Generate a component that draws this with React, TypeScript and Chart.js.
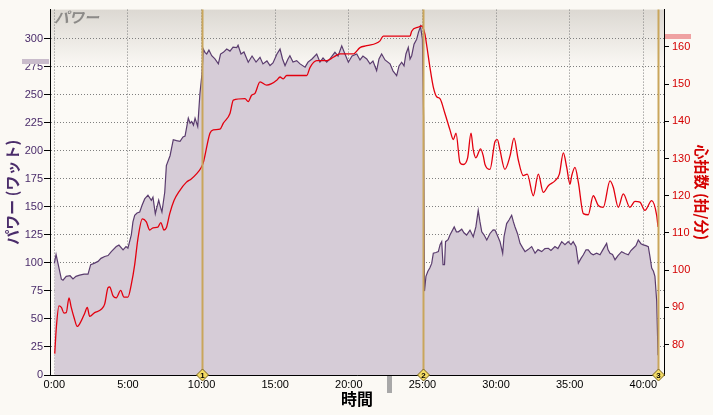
import React, { useEffect, useRef } from 'react';
import { Chart, registerables } from 'chart.js';

Chart.register(...registerables);

// ---- data (time in minutes) ----
const powerTimes = [
  0, 0.12, 0.25, 0.48, 0.59, 0.81, 1.07, 1.27, 1.47, 1.72, 2.02, 2.29, 2.47, 2.7, 2.97, 3.17, 3.42, 3.65, 3.87, 4.21,
  4.39, 4.67, 4.87, 5.0, 5.23, 5.34, 5.46, 5.62, 5.8, 5.96, 6.14, 6.36, 6.59, 6.7, 6.86, 6.97, 7.09, 7.21, 7.31, 7.5,
  7.61, 7.86, 8.08, 8.3, 8.54, 8.74, 8.88, 9.1, 9.22, 9.33, 9.45, 9.56, 9.74, 9.89, 10.03, 10.12, 10.23, 10.35, 10.5, 10.69,
  10.91, 11.14, 11.29, 11.48, 11.71, 11.93, 12.14, 12.39, 12.48, 12.68, 12.88, 13.17, 13.43, 13.7, 13.97, 14.17, 14.44, 14.65, 14.85, 15.12,
  15.33, 15.5, 15.67, 15.87, 16.0, 16.21, 16.46, 16.69, 17.03, 17.23, 17.5, 17.82, 18.04, 18.25, 18.5, 18.72, 19.06, 19.27, 19.52, 19.74,
  19.97, 20.22, 20.54, 20.76, 20.96, 21.22, 21.44, 21.64, 21.89, 22.05, 22.23, 22.46, 22.8, 23.0, 23.25, 23.41, 23.59, 23.75, 23.88, 24.04,
  24.16, 24.27, 24.43, 24.61, 24.73, 24.87, 25.0, 25.08, 25.14, 25.24, 25.37, 25.5, 25.63, 25.74, 25.92, 26.08, 26.2, 26.31, 26.4, 26.5,
  26.57, 26.74, 26.87, 27.16, 27.31, 27.44, 27.67, 27.82, 28.0, 28.23, 28.45, 28.63, 28.79, 28.91, 29.03, 29.18, 29.37, 29.59, 29.8, 29.93,
  30.13, 30.27, 30.45, 30.54, 30.72, 30.88, 31.06, 31.18, 31.29, 31.46, 31.63, 31.8, 31.97, 32.17, 32.42, 32.65, 32.85, 33.1, 33.32, 33.55,
  33.73, 34.0, 34.2, 34.46, 34.68, 34.9, 35.09, 35.24, 35.43, 35.59, 35.77, 35.93, 36.11, 36.26, 36.45, 36.6, 36.83, 37.06, 37.26, 37.51,
  37.6, 37.74, 37.91, 38.08, 38.28, 38.53, 38.76, 38.98, 39.16, 39.32, 39.5, 39.66, 39.84, 40.0, 40.18, 40.34, 40.45, 40.57, 40.69, 40.79,
  40.91, 40.96, 41.0,
];
const powerValues = [
  99.5, 107.4, 99.5, 85.4, 84.5, 88, 88.5, 85.7, 88, 89, 90, 90, 98.4, 99.5, 101.3, 104, 105.7, 106.5, 110, 114.5,
  115.8, 111.6, 114.5, 113, 125, 136.5, 142.4, 144.4, 145.3, 151.4, 157, 160.3, 155.8, 158.5, 143.8, 149.7, 155.8, 149.7, 145.3, 162.9,
  186.7, 195.5, 209.8, 209, 208.4, 212.2, 213, 229, 224.5, 226, 222.8, 229, 221.6, 251, 268.6, 290.6, 287.7, 286.2, 289.7, 284.7,
  281.8, 277.4, 286.2, 287.7, 290.6, 288.8, 292.3, 292, 294, 286.2, 288, 278.9, 284.4, 279, 283.3, 277.4, 280, 275.9, 278.2, 286.2,
  290.6, 281.8, 275.9, 281.8, 284.7, 279, 280.3, 277.4, 274.5, 279, 281.8, 286.2, 279, 282.6, 278.9, 281.8, 287.7, 284.4, 293.5, 286.2,
  278.9, 284.4, 286.2, 280.9, 284.4, 281.8, 277.4, 280, 271.5, 281.8, 286.2, 280.9, 277.4, 271.2, 267, 275.6, 278.9, 275.6, 286.2, 292,
  281.8, 284.7, 295, 299.4, 305.5, 310.8, 299.4, 230, 74.8, 88, 92.5, 95.4, 99.5, 108.6, 109.2, 110, 116.2, 118.9, 98.4, 98.4,
  118.9, 120.6, 124.8, 132, 127.7, 127.7, 130, 126.8, 124.8, 129.2, 123.3, 132, 146.8, 136.5, 127.7, 125, 120.4, 126.2, 129.4, 129.2,
  123.3, 118.9, 108.6, 123.3, 135, 138.2, 142.4, 136.5, 132, 126, 117.4, 113.6, 110, 111.8, 114.5, 108.6, 111.8, 110, 112.7, 113,
  111, 114.5, 112.7, 118.9, 116.2, 118.9, 116.2, 118.9, 114.5, 99.8, 104, 107.2, 111.6, 111.6, 108.3, 107.2, 108.6, 107.2, 111.8, 117.4,
  111.8, 108.6, 107.4, 102.8, 106.5, 110, 108.3, 107.2, 111, 113, 115.3, 120.4, 117.1, 116, 115.3, 114.5, 105.7, 95.4, 92.5, 88,
  66, 39.6, 17.6,
];

const hrTimes = [
  0.03, 0.14, 0.32, 0.48, 0.66, 0.81, 1.0, 1.15, 1.34, 1.56, 1.83, 2.06, 2.24, 2.4, 2.74, 3.19, 3.42, 3.65, 3.76, 3.99,
  4.21, 4.51, 4.73, 5.0, 5.23, 5.46, 5.68, 5.98, 6.25, 6.48, 6.7, 7.04, 7.23, 7.45, 7.61, 7.84, 8.13, 8.52, 8.96, 9.3,
  9.64, 9.98, 10.12, 10.57, 10.8, 11.25, 11.48, 11.93, 12.16, 12.95, 13.17, 13.4, 13.63, 13.97, 14.42, 14.76, 15.1, 15.33, 15.55, 15.78,
  17.14, 17.37, 17.82, 18.5, 18.95, 19.4, 20.3, 20.76, 21.22, 22.12, 22.34, 24.16, 24.27, 24.72, 24.95, 25.17, 25.28, 25.51, 25.74, 25.97,
  26.19, 26.53, 26.87, 27.1, 27.28, 27.55, 27.77, 28.07, 28.3, 28.45, 28.63, 28.95, 29.13, 29.25, 29.59, 29.93, 30.09, 30.26, 30.6, 30.95,
  31.22, 31.5, 31.85, 32.12, 32.53, 32.87, 33.21, 33.55, 34.0, 34.3, 34.57, 34.8, 35.02, 35.14, 35.36, 35.59, 35.93, 36.26, 36.6, 36.94,
  37.28, 37.74, 37.96, 38.3, 38.64, 39.09, 39.43, 39.77, 40.11, 40.57, 40.91, 41.0,
];
const hrValues = [
  77.6, 84.7, 90.4, 90, 88.5, 88.6, 92.6, 90, 87.3, 84.9, 86.4, 88.4, 90, 87.6, 88.6, 89.5, 90.9, 95.3, 95.5, 93.1,
  92.6, 94.6, 92.8, 92.8, 96.2, 101.5, 108.5, 113.8, 113, 110.8, 111.4, 111.6, 112.8, 110.8, 111.4, 115.2, 118.7, 121.4, 123.6, 124.5,
  125.8, 127.6, 128.9, 136.8, 137.7, 137.9, 139.5, 142.1, 145.7, 146.1, 145.3, 147, 147.5, 150.6, 149.7, 150.1, 151, 151.9, 151.4, 152.3,
  152.3, 154.5, 156.3, 156.3, 157.2, 158.1, 158.1, 159.8, 160.3, 161.6, 162.9, 162.9, 164.2, 165.3, 165.6, 163.4, 160.7, 154.5, 149.2, 146.6,
  146.1, 142.1, 137.7, 135.1, 136.8, 128.9, 128.4, 130.2, 136.8, 132.4, 130.2, 132.6, 130.7, 128.4, 127.1, 134.6, 135.1, 132.4, 127.1, 130.7,
  135.5, 129.8, 125.4, 125.8, 120, 125.8, 120.9, 122.7, 124, 125.8, 131.5, 127.6, 123.1, 125.4, 127.6, 123.6, 115.2, 114.9, 120, 117.4,
  116.9, 124, 122.3, 116.9, 120.5, 116.9, 118.5, 118.3, 116.1, 118.7, 114.7, 111.6,
];

const xTickValues = [0, 5, 10, 15, 20, 25, 30, 35, 40];
const xTickLabels = ['0:00', '5:00', '10:00', '15:00', '20:00', '25:00', '30:00', '35:00', '40:00'];
const powerTicks = [0, 25, 50, 75, 100, 125, 150, 175, 200, 225, 250, 275, 300];
const hrTicks = [80, 90, 100, 110, 120, 130, 140, 150, 160];

const lapTimes = [10.05, 25.06, 41.03];
const lapLabels = ['1', '2', '3'];
const avgPowerMarker = 279.6;
const maxHrMarker = 163;
const timeMarker = 22.7;

// ---- styles ----
const BG = '#FBF9F4';
const GRID = '#7f7f7f';
const PURPLE = '#4A2C6A';
const RED = '#D40000';
const TICK_FONT = { family: '"Liberation Sans", Arial, sans-serif', size: 11 };
const JP = '"Noto Sans CJK JP", sans-serif';

const decorPlugin = {
  id: 'decor',
  beforeDraw(chart: any) {
    const { ctx, chartArea: a } = chart;
    ctx.save();
    ctx.fillStyle = BG;
    ctx.fillRect(0, 0, chart.width, chart.height);
    const g = ctx.createLinearGradient(0, a.top, 0, a.top + 60);
    g.addColorStop(0, '#DCD8D2');
    g.addColorStop(1, '#FCFAF6');
    ctx.fillStyle = '#FCFAF6';
    ctx.fillRect(a.left, a.top, a.right - a.left, a.bottom - a.top);
    ctx.fillStyle = g;
    ctx.fillRect(a.left, a.top, a.right - a.left, 60);
    // top-left label
    ctx.font = `italic bold 15px ${JP}`;
    ctx.fillStyle = '#8C8A88';
    ctx.textBaseline = 'top';
    ctx.textAlign = 'left';
    ctx.fillText('パワー', a.left + 4, a.top + 0);
    ctx.restore();
  },
  afterDraw(chart: any) {
    const { ctx, chartArea: a, scales } = chart;
    const xs = scales.x, yp = scales.yPower, yh = scales.yHr;
    ctx.save();
    // side markers
    const py = yp.getPixelForValue(avgPowerMarker);
    ctx.fillStyle = '#C9BCCB';
    ctx.fillRect(a.left - 28, Math.round(py) - 2, 27, 5);
    const hy = yh.getPixelForValue(maxHrMarker);
    ctx.fillStyle = '#EFA2A2';
    ctx.fillRect(a.right + 1, Math.round(hy) - 2, 26, 5);
    const tx = xs.getPixelForValue(timeMarker);
    ctx.fillStyle = '#A8A8A8';
    ctx.fillRect(Math.round(tx) - 2, a.bottom + 1, 5, 17);
    // laps
    lapTimes.forEach((t, i) => {
      const px = Math.round(xs.getPixelForValue(t)) + 0.5;
      ctx.strokeStyle = '#C9A65C';
      ctx.lineWidth = 2;
      ctx.beginPath();
      ctx.moveTo(px, a.top);
      ctx.lineTo(px, a.bottom);
      ctx.stroke();
      const cy = a.bottom;
      ctx.beginPath();
      ctx.moveTo(px, cy - 6);
      ctx.lineTo(px + 6, cy);
      ctx.lineTo(px, cy + 6);
      ctx.lineTo(px - 6, cy);
      ctx.closePath();
      ctx.fillStyle = '#F3DB64';
      ctx.fill();
      ctx.lineWidth = 1;
      ctx.strokeStyle = '#7A6420';
      ctx.stroke();
      ctx.fillStyle = '#000';
      ctx.font = 'bold 8px "Liberation Sans", sans-serif';
      ctx.textAlign = 'center';
      ctx.textBaseline = 'middle';
      ctx.fillText(lapLabels[i], px, cy + 0.5);
    });
    ctx.restore();
  },
};

export default function App() {
  const ref = useRef<HTMLCanvasElement>(null);
  useEffect(() => {
    document.body.style.margin = '0';
    document.body.style.background = BG;
    const canvas = ref.current as HTMLCanvasElement;
    const chart = new Chart(canvas, {
      type: 'line',
      data: {
        datasets: [
          {
            label: '心拍数',
            data: hrTimes.map((t, i) => ({ x: t, y: hrValues[i] })),
            yAxisID: 'yHr',
            borderColor: '#E3000F',
            borderWidth: 1.3,
            pointRadius: 0,
            fill: false,
            cubicInterpolationMode: 'monotone',
            order: 0,
          },
          {
            label: 'パワー',
            data: powerTimes.map((t, i) => ({ x: t, y: powerValues[i] })),
            yAxisID: 'yPower',
            borderColor: '#5A3C6E',
            backgroundColor: '#D6CCD7',
            borderWidth: 1.2,
            pointRadius: 0,
            fill: 'origin',
            tension: 0,
            order: 1,
          },
        ],
      } as any,
      options: {
        responsive: false,
        maintainAspectRatio: false,
        animation: false,
        layout: { padding: { top: 5, left: 0, right: 0, bottom: 0 } },
        plugins: { legend: { display: false }, tooltip: { enabled: false } },
        scales: {
          x: {
            type: 'linear',
            min: -0.292,
            max: 41.406,
            z: 1,
            afterBuildTicks: (s: any) => {
              s.ticks = xTickValues.map((v) => ({ value: v }));
            },
            afterFit: (s: any) => {
              s.height = 40;
            },
            ticks: {
              callback: (_v: any, i: number) => xTickLabels[i],
              font: TICK_FONT,
              color: '#000',
              padding: 3,
              maxRotation: 0,
              autoSkip: false,
            },
            grid: { color: GRID, drawTicks: false, lineWidth: 1 },
            border: { color: '#000', width: 1, dash: [1, 2] },
            title: {
              display: true,
              text: '時間',
              color: '#000',
              font: { family: JP, size: 16, weight: 'bold' },
              padding: { top: 0, bottom: 6 },
            },
          },
          yPower: {
            type: 'linear',
            position: 'left',
            min: 0,
            max: 325.8,
            z: 1,
            afterBuildTicks: (s: any) => {
              s.ticks = powerTicks.map((v) => ({ value: v }));
            },
            afterFit: (s: any) => {
              s.width = 50;
            },
            ticks: { font: TICK_FONT, color: PURPLE, padding: 1 },
            grid: { color: GRID, drawTicks: true, tickLength: 6, tickColor: '#000', tickWidth: 1, lineWidth: 1 },
            border: { color: '#000', width: 1, dash: [1, 2] },
            title: {
              display: true,
              text: 'パワー (ワット)',
              color: PURPLE,
              font: { family: JP, size: 15, weight: 'bold' },
              padding: { top: 3, bottom: 0 },
            },
          },
          yHr: {
            type: 'linear',
            position: 'right',
            min: 71.86,
            max: 170,
            z: 1,
            afterBuildTicks: (s: any) => {
              s.ticks = hrTicks.map((v) => ({ value: v }));
            },
            afterFit: (s: any) => {
              s.width = 49;
            },
            ticks: { font: TICK_FONT, color: RED, padding: 3 },
            grid: { drawOnChartArea: false, drawTicks: true, tickLength: 5, tickColor: '#000', tickWidth: 1 },
            border: { color: '#000', width: 1 },
            title: {
              display: true,
              text: '心拍数 (拍/分)',
              color: RED,
              font: { family: JP, size: 15, weight: 'bold' },
              padding: { top: 2, bottom: 0 },
            },
          },
        },
      } as any,
      plugins: [decorPlugin],
    });
    return () => chart.destroy();
  }, []);
  return <canvas ref={ref} width={713} height={415} style={{ display: 'block' }} />;
}
